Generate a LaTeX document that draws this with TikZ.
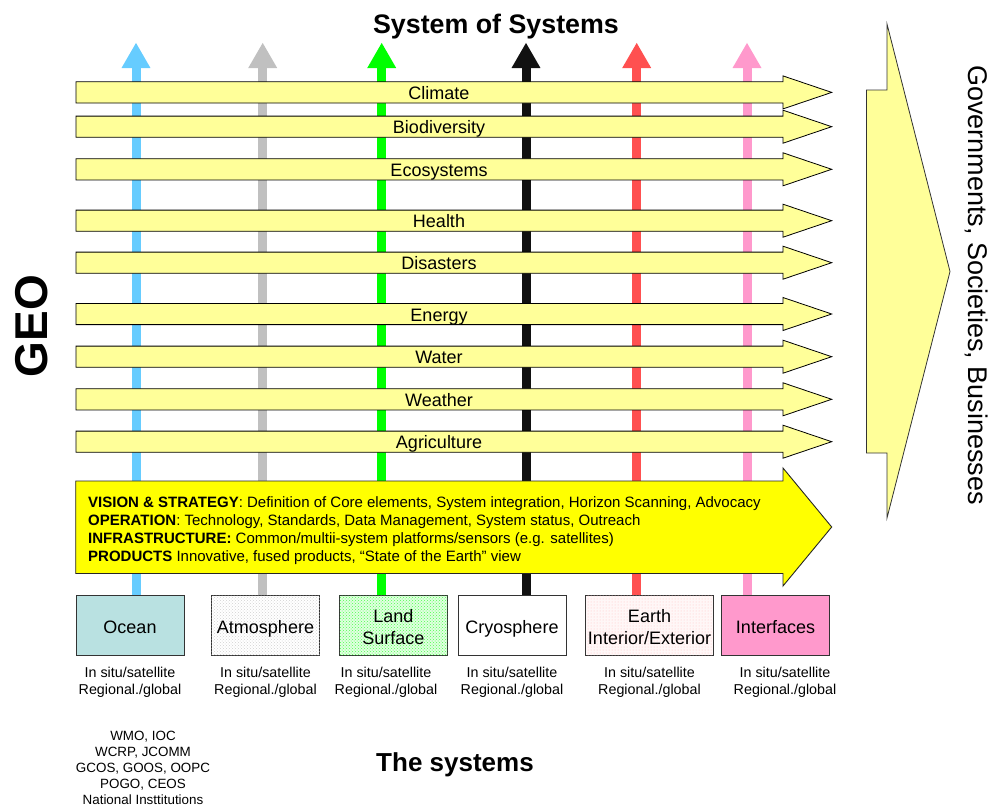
\documentclass[tikz,border=0pt]{standalone}
\usepackage{fontspec}
\setmainfont{Liberation Sans}
\usetikzlibrary{arrows.meta,patterns}
\definecolor{hy}{HTML}{FFFF99}
\definecolor{vy}{HTML}{FFFF00}
\definecolor{oceanc}{HTML}{B9E1E1}
\definecolor{interc}{HTML}{FF99CC}
\definecolor{ablue}{HTML}{66CCFF}
\definecolor{agray}{HTML}{C0C0C0}
\definecolor{agreen}{HTML}{00FF00}
\definecolor{ablack}{HTML}{111111}
\definecolor{ared}{HTML}{FF5050}
\definecolor{apink}{HTML}{FF99CC}
\tikzset{
  harrow/.style={fill=hy, draw=black, line width=0.8pt},
  hlabel/.style={font=\fontsize{18}{21}\selectfont, inner sep=0pt, anchor=base},
  varrow/.style={line width=9pt, -{Triangle[width=27pt,length=25.5pt]}},
  sysbox/.style={draw=black!80, line width=0.9pt, minimum width=108pt, minimum height=60pt, inner sep=0pt, align=center, font=\fontsize{18}{21.5}\selectfont},
  oneline/.style={text height=17pt, text depth=0pt},
  subtext/.style={align=center, inner sep=0pt, font=\fontsize{14.3}{16.6}\selectfont},
  title/.style={font=\fontsize{26}{30}\selectfont\bfseries, inner sep=0pt, anchor=base}
}
\begin{document}
\begin{tikzpicture}[x=1pt,y=-1pt]
\useasboundingbox (0,0) rectangle (990,806);
% vertical arrows (behind everything)
\foreach \x/\c/\n in {136/ablue/1, 262.7/agray/2, 381.7/agreen/3, 526/ablack/4, 636.7/ared/5, 747/apink/6}{
  \coordinate (vb\n) at (\x,594.5);
  \coordinate (vt\n) at (\x,42.5);
  \draw[varrow, draw=\c, fill=\c] (vb\n) -- (vt\n);
}
% horizontal theme arrows
\foreach \y/\t/\n in {92.4/Climate/climate, 126.7/Biodiversity/biodiv, 169.3/Ecosystems/ecosys, 220.7/Health/health, 262.7/Disasters/disasters, 314/Energy/energy, 356.7/Water/water, 399.3/Weather/weather, 441.7/Agriculture/agri}{
  \draw[harrow] (76,\y-10.6) -- (783,\y-10.6) -- (783,\y-16.5) -- (831.7,\y) -- (783,\y+16.5) -- (783,\y+10.6) -- (76,\y+10.6) -- cycle;
  \node[hlabel] (\n) at (439,\y+7.2) {\t};
}
% big vision arrow
\draw[fill=vy, draw=black!85, line width=0.9pt] (75.7,481) -- (783,481) -- (783,468) -- (831.7,527) -- (783,586) -- (783,573.5) -- (75.7,573.5) -- cycle;
\node[anchor=west, align=left, inner sep=0pt, font=\fontsize{15}{18}\selectfont] (vision) at (88,530.5) {%
\textbf{VISION \& STRATEGY}: Definition of Core elements, System integration, Horizon Scanning, Advocacy\\
\textbf{OPERATION}: Technology, Standards, Data Management, System status, Outreach\\
\textbf{INFRASTRUCTURE:} Common/multii-system platforms/sensors (e.g. satellites)\\
\textbf{PRODUCTS} Innovative, fused products, ``State of the Earth'' view};
% system boxes
\node[sysbox, oneline, fill=oceanc] (ocean) at (130,625) {Ocean};
\node[sysbox, oneline, fill=white, postaction={pattern=crosshatch dots, pattern color=black!18}] (atmo) at (265.5,625) {Atmosphere};
\node[sysbox, fill=green!12, postaction={pattern=crosshatch dots, pattern color=green!70}] (land) at (393.3,625) {\rule{0pt}{17pt}Land\\Surface};
\node[sysbox, oneline, fill=white] (cryo) at (512,625) {Cryosphere};
\node[sysbox, minimum width=128pt, fill=red!3, postaction={pattern=dots, pattern color=red!25}] (earth) at (649.5,625) {\rule{0pt}{17pt}Earth\\Interior/Exterior};
\node[sysbox, oneline, fill=interc] (inter) at (775.5,625) {Interfaces};
% sub texts
\foreach \x/\n in {130/1, 265.5/2, 386/3, 512/4, 649.5/5, 785/6}{
  \node[subtext] (sub\n) at (\x,682) {In situ/satellite\\Regional./global};
}
% big right arrow
\draw[fill=hy, draw=black!80, line width=0.8pt] (866.5,90) -- (887,90) -- (887,24) -- (950,271.5) -- (887,518) -- (887,453) -- (866.5,453) -- cycle;
\node[rotate=-90, inner sep=0pt, font=\fontsize{27}{30}\selectfont] (gsb) at (977,285) {Governments, Societies, Businesses};
% titles
\node[title, font=\fontsize{26.8}{30}\selectfont\bfseries] (sos) at (496,33) {System of Systems};
\node[title] (thesys) at (455,771.5) {The systems};
\node[rotate=90, inner sep=0pt, font=\fontsize{46}{50}\selectfont\bfseries] (geo) at (31.5,326) {GEO};
\node[align=center, inner sep=0pt, font=\fontsize{13.4}{16}\selectfont] (orgs) at (143,768) {WMO, IOC\\WCRP, JCOMM\\GCOS, GOOS, OOPC\\POGO, CEOS\\National Insttitutions};
\end{tikzpicture}
\end{document}
